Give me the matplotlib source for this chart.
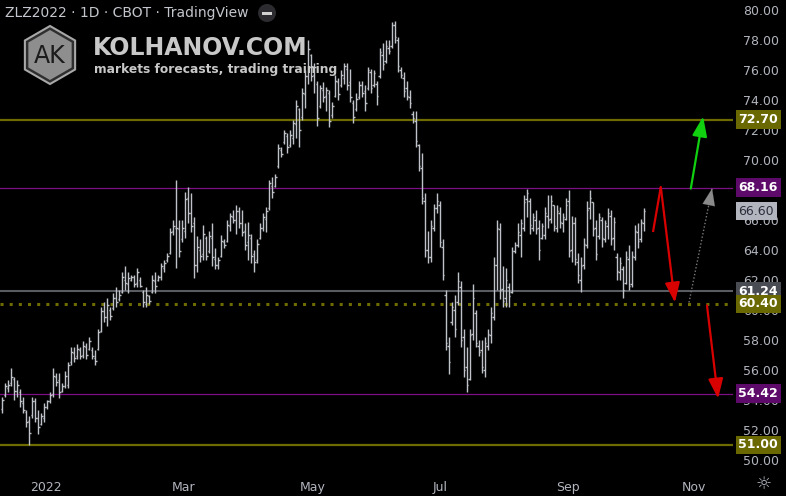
import matplotlib.pyplot as plt
from matplotlib.patches import RegularPolygon, Circle, Rectangle
from matplotlib.transforms import blended_transform_factory

# daily OHLC, ZLZ2022 (soybean oil Dec 2022)
highs = [54.2, 55.1, 55.3, 56.1, 55.5, 55.3, 54.7, 54.2, 53.3, 52.9,
         54.2, 54.1, 53.3, 53.1, 53.8, 54.0, 54.5, 56.1, 55.8, 55.8,
         55.1, 55.9, 56.5, 57.5, 57.5, 57.7, 57.5, 57.9, 57.8, 58.2,
         57.5, 57.3, 58.7, 60.2, 60.5, 60.8, 60.2, 61.1, 61.5, 61.3,
         62.5, 62.9, 62.5, 62.3, 62.3, 62.8, 62.2, 61.3, 61.5, 61.0,
         62.3, 62.5, 62.3, 63.1, 63.3, 63.8, 65.5, 66.0, 68.7, 66.0,
         66.0, 67.9, 68.2, 67.8, 66.2, 64.9, 64.7, 65.7, 64.9, 65.3,
         65.8, 64.1, 63.5, 65.0, 64.7, 66.0, 66.5, 66.7, 67.0, 66.9,
         66.7, 65.8, 65.9, 65.1, 64.0, 64.7, 65.8, 66.5, 66.9, 68.7,
         68.9, 69.1, 71.1, 70.9, 72.0, 71.8, 72.0, 72.7, 74.0, 73.5,
         74.8, 76.0, 78.0, 77.1, 76.5, 75.3, 75.0, 75.2, 74.9, 74.7,
         73.9, 75.7, 75.5, 76.0, 76.5, 76.5, 76.1, 74.0, 74.5, 75.3,
         75.3, 75.0, 76.2, 76.1, 76.0, 75.3, 77.5, 77.8, 78.0, 78.0,
         79.2, 79.3, 78.2, 76.2, 75.9, 75.3, 74.7, 73.3, 73.3, 71.1,
         70.5, 67.8, 65.3, 66.0, 67.1, 67.8, 67.3, 64.7, 61.3, 58.2,
         60.5, 61.0, 62.5, 61.9, 58.7, 57.5, 58.7, 61.7, 60.0, 58.0,
         58.0, 58.2, 58.7, 60.2, 63.5, 66.0, 65.8, 62.9, 62.8, 61.8,
         64.2, 64.5, 65.8, 66.1, 67.7, 68.1, 67.5, 66.5, 66.7, 66.0,
         65.8, 66.9, 67.7, 67.7, 67.0, 67.0, 66.9, 66.5, 67.5, 68.0,
         66.3, 66.2, 63.8, 63.5, 64.8, 67.3, 68.0, 67.2, 66.0, 66.5,
         66.2, 66.0, 66.8, 66.7, 66.2, 63.8, 63.5, 62.9, 63.9, 64.3,
         63.9, 65.7, 65.8, 66.1, 66.8]
lows = [53.1, 54.2, 54.5, 54.9, 54.0, 54.2, 53.5, 53.1, 52.2, 51.0,
        52.8, 52.5, 51.7, 52.3, 52.5, 53.4, 53.8, 54.2, 54.9, 54.1,
        54.5, 54.8, 54.8, 56.3, 56.5, 56.7, 56.7, 56.8, 56.7, 57.3,
        56.7, 56.3, 57.3, 58.5, 59.2, 58.9, 59.3, 60.0, 60.2, 60.6,
        61.1, 61.3, 61.1, 61.9, 61.5, 61.5, 61.5, 60.2, 60.2, 60.4,
        61.1, 61.1, 61.9, 62.0, 62.5, 63.2, 63.7, 65.0, 62.8, 63.5,
        64.5, 64.8, 65.8, 65.2, 62.1, 62.5, 63.2, 63.3, 63.3, 63.8,
        62.9, 62.7, 62.7, 63.5, 64.1, 64.5, 65.3, 65.8, 65.1, 65.5,
        64.9, 64.0, 63.3, 63.1, 62.5, 63.1, 64.7, 65.3, 65.2, 66.7,
        67.5, 68.2, 69.5, 70.2, 71.1, 70.5, 70.9, 71.1, 71.5, 70.9,
        72.7, 73.5, 75.1, 75.3, 74.5, 72.3, 73.5, 73.9, 73.3, 72.2,
        72.8, 74.2, 74.0, 74.9, 75.1, 74.7, 73.9, 72.5, 73.3, 74.1,
        74.2, 73.3, 74.7, 74.5, 74.9, 73.7, 75.5, 76.0, 76.5, 77.1,
        77.5, 77.8, 75.9, 75.5, 74.2, 74.0, 73.5, 72.5, 70.9, 69.3,
        67.1, 63.5, 63.1, 63.2, 65.3, 66.5, 64.2, 62.0, 57.3, 55.7,
        59.0, 58.2, 60.3, 57.5, 55.5, 54.5, 55.3, 58.0, 57.5, 56.9,
        55.8, 55.5, 57.3, 57.8, 59.3, 61.3, 60.7, 60.2, 60.2, 60.2,
        61.1, 63.8, 64.2, 63.5, 65.3, 66.2, 65.1, 65.3, 65.1, 63.3,
        64.7, 64.7, 65.5, 65.8, 65.3, 65.2, 65.5, 65.2, 66.0, 63.5,
        63.2, 63.0, 61.8, 61.2, 62.7, 64.1, 66.1, 64.9, 63.3, 64.7,
        64.2, 64.5, 64.7, 64.3, 64.0, 62.0, 62.0, 60.8, 61.7, 61.3,
        61.5, 63.3, 64.1, 64.5, 65.3]
opens = [53.4, 54.3, 54.8, 55.1, 55.4, 54.6, 54.5, 53.8, 53.2, 52.6,
         53.0, 53.9, 52.8, 52.4, 52.8, 53.5, 53.9, 54.4, 55.5, 55.3,
         54.6, 54.9, 55.0, 56.5, 57.1, 56.9, 57.3, 57.0, 57.5, 57.4,
         57.3, 56.8, 57.4, 58.6, 59.9, 59.5, 60.0, 60.1, 60.8, 60.7,
         61.2, 62.0, 61.7, 62.0, 62.2, 61.8, 62.0, 61.2, 60.4, 60.9,
         61.2, 61.9, 62.0, 62.2, 62.8, 63.3, 63.8, 65.3, 65.5, 65.4,
         64.7, 65.3, 67.5, 66.5, 65.8, 63.0, 64.0, 63.7, 64.8, 63.9,
         64.8, 63.4, 63.0, 63.6, 64.5, 64.6, 65.6, 66.2, 66.0, 66.6,
         65.8, 65.3, 64.5, 64.8, 63.7, 63.3, 64.8, 65.5, 66.1, 66.8,
         68.3, 68.3, 69.6, 70.7, 71.2, 71.6, 71.0, 71.5, 72.4, 73.4,
         72.9, 74.4, 75.6, 77.0, 75.7, 75.1, 73.6, 74.7, 74.3, 74.5,
         73.0, 74.3, 75.2, 75.0, 75.5, 76.1, 75.2, 73.8, 73.4, 74.2,
         75.0, 74.6, 74.8, 75.9, 75.0, 75.1, 75.6, 77.0, 76.6, 77.5,
         77.6, 79.0, 78.0, 76.0, 75.5, 74.8, 74.2, 73.1, 72.6, 71.0,
         69.5, 67.3, 64.0, 63.5, 65.5, 66.8, 67.0, 64.2, 61.0, 57.6,
         59.2, 60.0, 60.5, 61.5, 58.2, 56.2, 55.4, 58.4, 59.8, 57.6,
         57.3, 56.0, 57.6, 58.3, 59.5, 63.0, 65.4, 61.4, 60.8, 61.5,
         61.2, 63.9, 64.3, 65.0, 65.5, 67.4, 67.3, 65.5, 66.0, 65.5,
         64.8, 65.0, 66.3, 66.1, 67.0, 65.5, 66.5, 65.8, 66.1, 67.3,
         64.0, 65.8, 63.2, 62.0, 63.0, 64.3, 66.8, 67.2, 65.5, 64.9,
         66.0, 64.7, 65.6, 66.3, 64.8, 63.5, 62.5, 62.7, 61.8, 63.4,
         61.7, 63.5, 65.2, 64.7, 65.8]
closes = [54.0, 54.9, 55.0, 55.5, 54.6, 55.0, 53.9, 53.3, 52.5, 51.8,
          53.9, 52.8, 52.2, 52.9, 53.5, 53.9, 54.3, 55.6, 55.2, 54.5,
          54.9, 55.6, 56.3, 57.2, 56.8, 57.4, 56.9, 57.6, 57.0, 57.9,
          56.9, 56.6, 58.5, 59.9, 59.5, 60.3, 59.6, 60.8, 60.5, 61.0,
          62.2, 61.8, 62.1, 62.2, 61.7, 62.5, 61.6, 60.5, 61.0, 60.6,
          62.0, 61.6, 62.2, 62.9, 63.1, 63.6, 65.2, 65.6, 65.5, 63.9,
          65.5, 67.4, 66.5, 65.6, 63.0, 64.2, 63.6, 65.1, 63.6, 64.9,
          63.5, 63.0, 63.3, 64.6, 64.3, 65.7, 66.3, 66.0, 66.6, 65.8,
          65.2, 64.3, 65.0, 63.6, 63.2, 64.4, 65.5, 66.2, 66.6, 68.5,
          67.9, 68.9, 70.8, 70.4, 71.8, 70.9, 71.7, 72.5, 73.6, 72.0,
          74.5, 75.6, 77.4, 75.6, 76.2, 72.8, 74.8, 74.2, 74.7, 72.6,
          73.6, 75.3, 74.4, 75.7, 76.3, 75.0, 74.2, 72.9, 74.1, 75.0,
          74.5, 73.8, 76.0, 74.8, 75.8, 74.3, 77.2, 76.4, 77.6, 77.3,
          79.0, 78.2, 76.3, 75.7, 74.6, 74.3, 73.8, 72.8, 71.3, 69.6,
          67.5, 64.0, 63.5, 65.6, 66.8, 67.3, 64.5, 62.3, 57.8, 56.5,
          60.2, 58.7, 61.9, 58.0, 56.0, 55.0, 58.3, 60.8, 57.8, 57.2,
          56.2, 57.8, 58.4, 59.8, 63.0, 65.5, 61.3, 60.6, 62.0, 60.9,
          63.9, 64.3, 65.2, 65.8, 67.2, 67.8, 65.7, 66.2, 65.4, 64.0,
          65.6, 66.5, 66.0, 67.3, 65.6, 66.6, 65.9, 66.2, 67.0, 63.9,
          65.8, 63.4, 62.3, 62.9, 64.4, 66.7, 67.5, 65.4, 63.7, 66.2,
          64.8, 65.8, 66.5, 64.7, 65.9, 62.6, 63.1, 61.3, 63.5, 61.6,
          63.6, 65.3, 64.6, 65.9, 66.6]

# horizontal levels drawn on the chart
levels = [72.70, 68.16, 61.24, 60.40, 54.42, 51.00]
level_kinds = ["olive", "purple", "gray", "olive_dots", "purple", "olive"]
last_price = 66.60

# month labels on the time axis (bar index where each label sits)
month_labels = ["2022", "Mar", "May", "Jul", "Sep", "Nov"]
month_pos = [14.7, 60.5, 103.7, 146, 188.8, 230.8]

# forecast arrows (bar index, price)
red_up = [(217, 65.2), (219.6, 68.2)]
red_down = [(219.6, 68.2), (224.3, 60.5)]
green_up = [(229.6, 68.1), (233.7, 72.9)]
gray_up = [(229, 60.5), (236.7, 68.1)]
red_down2 = [(235, 60.3), (238.7, 54.1)]

BG = "#000000"
BAR = "#bfc2c9"
TXT = "#b2b5be"
OLIVE = "#6e6c00"
PURPLE = "#7c0f84"
GRAY = "#5a5c64"

fig = plt.figure(figsize=(7.86, 4.96), dpi=100, facecolor=BG)
ax = fig.add_axes([0, 26 / 496, 733 / 786, 470 / 496])
ax.set_facecolor(BG)
for s in ax.spines.values():
    s.set_visible(False)

idx = list(range(len(closes)))
ax.vlines(idx, lows, highs, color=BAR, lw=1.0)
ax.hlines(opens, [i - 0.5 for i in idx], idx, color=BAR, lw=1.0)
ax.hlines(closes, idx, [i + 0.5 for i in idx], color=BAR, lw=1.0)

ax.set_xlim(-0.67, 243.67)
ax.set_ylim(49.333, 80.667)

line_style = {
    "olive": dict(color=OLIVE, lw=1.6),
    "purple": dict(color=PURPLE, lw=0.9),
    "gray": dict(color=GRAY, lw=1.5),
    "olive_dots": dict(color=OLIVE, lw=2.2, linestyle=(0, (1, 2)), dash_capstyle="butt"),
}
label_bg = {"olive": "#6a6800", "purple": "#5e0a6a", "gray": "#4a4c54", "olive_dots": "#6a6800"}

for lv, kind in zip(levels, level_kinds):
    ax.axhline(lv, zorder=1, **line_style[kind])

ax.yaxis.tick_right()
ax.set_yticks(range(50, 81, 2))
ax.set_yticklabels([f"{v:.2f}" for v in range(50, 81, 2)])
ax.tick_params(axis="y", length=0, pad=7, labelcolor=TXT, labelsize=9)
ax.set_xticks(month_pos)
ax.set_xticklabels(month_labels)
ax.tick_params(axis="x", length=0, pad=8, labelcolor=TXT, labelsize=9)

trans = blended_transform_factory(ax.transAxes, ax.transData)
for lv, kind in zip(levels, level_kinds):
    ax.text(1.0075, lv, f"{lv:.2f}", transform=trans, ha="left", va="center",
            fontsize=9, fontweight="bold", color="white", zorder=5,
            bbox=dict(boxstyle="square,pad=0.22", fc=label_bg[kind], ec="none"))
ax.text(1.0075, last_price, f"{last_price:.2f}", transform=trans, ha="left", va="center",
        fontsize=9, color="#2a2e39", zorder=5,
        bbox=dict(boxstyle="square,pad=0.22", fc=TXT, ec="none"))

# forecast arrows
head = "-|>,head_length=1.2,head_width=0.45"
ax.plot(*zip(*red_up), color="#d90000", lw=1.6, solid_capstyle="butt", zorder=4)
for seg, col in [(red_down, "#d90000"), (green_up, "#10d010"), (red_down2, "#d90000")]:
    ax.annotate("", xy=seg[1], xytext=seg[0], zorder=4,
                arrowprops=dict(arrowstyle=head, color=col, lw=1.6,
                                mutation_scale=10, shrinkA=0, shrinkB=0))
ax.plot(*zip(*gray_up), color="#7a7a7a", lw=1.0, linestyle=(0, (1, 1.5)), zorder=4)
gx0, gy0 = gray_up[0]
gx1, gy1 = gray_up[1]
ax.annotate("", xy=(gx1, gy1), xytext=(gx1 - (gx1 - gx0) * 0.2, gy1 - (gy1 - gy0) * 0.2),
            zorder=4, arrowprops=dict(arrowstyle=head, color="#8a8a8a", lw=0.1,
                                      mutation_scale=10, shrinkA=0, shrinkB=0))

# header / branding overlay in pixel coordinates
ov = fig.add_axes([0, 0, 1, 1], facecolor="none")
ov.set_xlim(0, 786)
ov.set_ylim(496, 0)
ov.axis("off")
ov.text(5, 13, "ZLZ2022 · 1D · CBOT · TradingView", ha="left", va="center",
        fontsize=10, color="#c3c6cc")
ov.add_patch(Circle((267, 13), 9, fc="#2c2c30", ec="none"))
ov.add_patch(Rectangle((262, 11.5), 10, 3, fc="#d0d0d0", ec="none"))

ov.add_patch(RegularPolygon((50, 55), 6, radius=29, fc="#2e2e2e", ec="#a8a8a8", lw=1.5))
ov.add_patch(RegularPolygon((50, 55), 6, radius=25, fc="#8e8e8e", ec="none"))
ov.text(50, 56, "AK", ha="center", va="center", fontsize=17, color="#1c1c1c")
ov.text(93, 48, "KOLHANOV.COM", ha="left", va="center", fontsize=17,
        fontweight="bold", color="#c8c8c8")
ov.text(94, 70, "markets forecasts, trading training", ha="left", va="center",
        fontsize=8.8, fontweight="bold", color="#c8c8c8")
ov.text(764, 484, "☼", ha="center", va="center", fontsize=13, color=TXT)

fig.savefig("out.png", dpi=100, facecolor=BG)
